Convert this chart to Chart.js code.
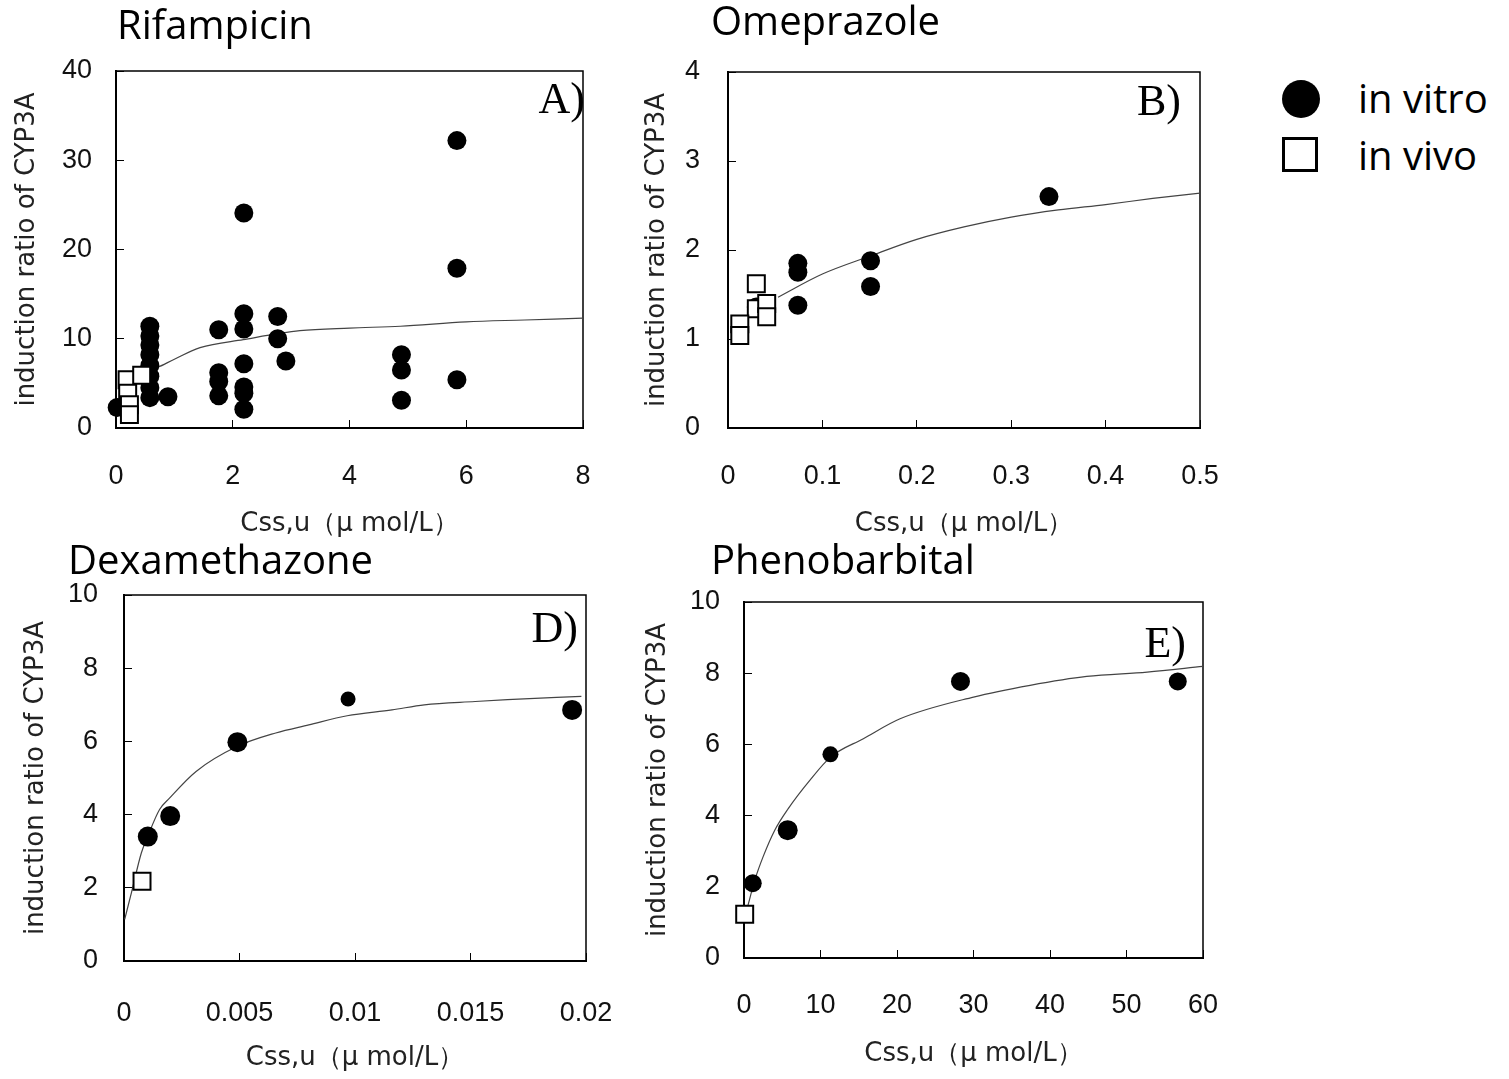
<!DOCTYPE html>
<html>
<head>
<meta charset="utf-8">
<script src="https://cdn.jsdelivr.net/npm/chart.js@4.4.0/dist/chart.umd.min.js"></script>
<style>
  body { margin: 0; background: #fff; width: 1509px; height: 1079px; position: relative; overflow: hidden; }
  canvas { position: absolute; }
  .legend { position: absolute; left: 1282px; font-family: "Open Sans", sans-serif; font-size: 40px; color: #000; }
  .legend .row { position: absolute; left: 0; height: 40px; white-space: nowrap; }
  .legend .mark { position: absolute; left: 0; top: 0; box-sizing: border-box; }
  .legend .dot { width: 38px; height: 38px; border-radius: 50%; background: #000; }
  .legend .box { width: 36px; height: 35px; border: 3px solid #000; background: #fff; }
  .legend .txt { position: absolute; left: 76px; top: -8px; line-height: 52px; }
</style>
</head>
<body>
<canvas id="panelA" width="620" height="540" style="left:0;top:0"></canvas>
<canvas id="panelB" width="620" height="540" style="left:620px;top:0"></canvas>
<canvas id="panelD" width="620" height="539" style="left:0;top:540px"></canvas>
<canvas id="panelE" width="620" height="539" style="left:620px;top:540px"></canvas>

<div class="legend">
  <div class="row" style="top:80px"><div class="mark dot"></div><span class="txt">in vitro</span></div>
  <div class="row" style="top:137px"><div class="mark box"></div><span class="txt">in vivo</span></div>
</div>

<script>
// Rifampicin (A)
const aVitroX = [0.02, 0.58, 0.58, 0.58, 0.58, 0.58, 0.58, 0.58, 0.58, 0.89,
  1.76, 1.76, 1.76, 1.76, 2.19, 2.19, 2.19, 2.19, 2.19, 2.19, 2.19,
  2.77, 2.77, 2.91, 4.89, 4.89, 4.89, 5.84, 5.84, 5.84];
const aVitroY = [2.3, 11.4, 10.3, 9.3, 8.2, 7.0, 5.8, 4.5, 3.4, 3.5,
  11.0, 6.2, 5.2, 3.6, 24.1, 12.8, 11.1, 7.2, 4.6, 3.9, 2.1,
  12.5, 10.0, 7.5, 8.2, 6.5, 3.1, 32.2, 17.9, 5.4];
const aVivoX = [0.19, 0.2, 0.23, 0.23, 0.44];
const aVivoY = [5.4, 3.9, 2.6, 1.5, 5.9];
const aFitX = [0.5, 0.72, 1.0, 1.44, 2.18, 3.15, 4.0, 4.87, 6.0, 7.0, 8.0];
const aFitY = [6.2, 6.8, 7.7, 9.0, 9.9, 10.9, 11.2, 11.4, 11.9, 12.1, 12.3];
const aXTicks = [0, 2, 4, 6, 8];
const aYTicks = [0, 10, 20, 30, 40];

// Omeprazole (B)
const bVitroX = [0.030, 0.074, 0.074, 0.074, 0.151, 0.151, 0.340];
const bVitroY = [1.36, 1.85, 1.75, 1.38, 1.88, 1.59, 2.60];
const bVivoX = [0.030, 0.030, 0.041, 0.041, 0.0125, 0.0125];
const bVivoY = [1.62, 1.34, 1.40, 1.25, 1.17, 1.04];
const bFitX = [0.053, 0.1, 0.15, 0.2, 0.25, 0.3, 0.35, 0.4, 0.45, 0.5];
const bFitY = [1.47, 1.73, 1.93, 2.12, 2.26, 2.37, 2.45, 2.51, 2.58, 2.64];
const bXTicks = [0, 0.1, 0.2, 0.3, 0.4, 0.5];
const bYTicks = [0, 1, 2, 3, 4];

// Dexamethazone (D)
const dVitroX = [0.00103, 0.00200, 0.00491, 0.00970, 0.0194];
const dVitroY = [3.40, 3.96, 5.98, 7.16, 6.86];
const dVitroR = [10, 10, 10, 7.5, 10];
const dVivoX = [0.00078];
const dVivoY = [2.18];
const dFitX = [0.00003, 0.00032, 0.00075, 0.00103, 0.00154, 0.00197, 0.00312, 0.00489,
  0.00657, 0.0080, 0.00966, 0.0116, 0.0130, 0.0152, 0.0166, 0.0198];
const dFitY = [1.14, 1.86, 2.95, 3.41, 4.14, 4.45, 5.18, 5.86,
  6.23, 6.45, 6.70, 6.86, 7.0, 7.09, 7.14, 7.23];
const dXTicks = [0, 0.005, 0.01, 0.015, 0.02];
const dYTicks = [0, 2, 4, 6, 8, 10];

// Phenobarbital (E)
const eVitroX = [1.14, 5.71, 11.3, 28.3, 56.7];
const eVitroY = [2.10, 3.59, 5.72, 7.77, 7.77];
const eVitroR = [9, 10, 8, 9.5, 9];
const eVivoX = [0.09];
const eVivoY = [1.23];
const eFitX = [0.52, 1.40, 2.49, 4.02, 5.76, 8.60, 11.35, 15.6, 20.4, 30.0, 37.4, 44.8, 52.7, 60.0];
const eFitY = [1.48, 2.18, 2.84, 3.59, 4.19, 4.99, 5.65, 6.16, 6.72, 7.33, 7.66, 7.91, 8.03, 8.19];
const eXTicks = [0, 10, 20, 30, 40, 50, 60];
const eYTicks = [0, 2, 4, 6, 8, 10];

const xTitle = 'Css,u（μ mol/L）';
const yTitle = 'induction ratio of CYP3A';

const tickFont = { family: '"Liberation Sans", sans-serif', size: 27 };
const titleFont = { family: '"DejaVu Sans", sans-serif', size: 26 };

function pts(xs, ys) {
    return xs.map((x, i) => ({ x: x, y: ys[i] }));
}

// panel name, letter and closed frame
const panelDecor = {
    id: 'panelDecor',
    beforeDatasetsDraw(chart, args, opts) {
        const { ctx, chartArea: a } = chart;
        ctx.save();
        ctx.strokeStyle = '#000';
        ctx.lineWidth = 1.5;
        ctx.beginPath();
        ctx.moveTo(a.left, a.top);
        ctx.lineTo(a.right, a.top);
        ctx.lineTo(a.right, a.bottom);
        ctx.stroke();
        ctx.restore();
    },
    afterDraw(chart, args, opts) {
        const { ctx } = chart;
        ctx.save();
        ctx.fillStyle = '#000';
        ctx.font = '40px "Open Sans", sans-serif';
        ctx.textAlign = 'left';
        ctx.textBaseline = 'middle';
        ctx.fillText(opts.name, opts.nameX, opts.nameY);
        ctx.font = '44px "Liberation Serif", serif';
        ctx.textAlign = 'right';
        ctx.textBaseline = 'alphabetic';
        ctx.fillText(opts.letter, opts.letterX, opts.letterY);
        ctx.restore();
    }
};

function makePanel(p) {
    const canvas = document.getElementById(p.id);
    const W = canvas.width, H = canvas.height;
    const yWidth = p.plot.l;
    const xHeight = H - p.plot.b;

    return new Chart(canvas.getContext('2d'), {
        type: 'scatter',
        data: {
            datasets: [
                {
                    label: 'in vivo',
                    data: pts(p.vivoX, p.vivoY),
                    pointStyle: 'rect',
                    pointRadius: 12,
                    pointHoverRadius: 12,
                    backgroundColor: '#fff',
                    borderColor: '#000',
                    borderWidth: 2,
                    clip: false,
                    order: 0
                },
                {
                    label: 'in vitro',
                    data: pts(p.vitroX, p.vitroY),
                    pointStyle: 'circle',
                    pointRadius: p.vitroR || 9.5,
                    backgroundColor: '#000',
                    borderColor: '#000',
                    borderWidth: 0,
                    clip: false,
                    order: 1
                },
                {
                    label: 'fit',
                    data: pts(p.fitX, p.fitY),
                    showLine: true,
                    pointRadius: 0,
                    borderColor: '#444',
                    borderWidth: 1.2,
                    cubicInterpolationMode: 'monotone',
                    order: 2
                }
            ]
        },
        options: {
            responsive: false,
            animation: false,
            devicePixelRatio: 1,
            layout: { padding: { top: p.plot.t, right: W - p.plot.r, left: 0, bottom: 0 } },
            plugins: {
                legend: { display: false },
                tooltip: { enabled: false },
                panelDecor: p.decor
            },
            scales: {
                x: {
                    type: 'linear',
                    min: p.xTicks[0],
                    max: p.xTicks[p.xTicks.length - 1],
                    afterBuildTicks: s => { s.ticks = p.xTicks.map(v => ({ value: v })); },
                    afterFit: s => { s.height = xHeight; s.paddingLeft = 0; s.paddingRight = 0; },
                    ticks: {
                        font: tickFont, color: '#111', padding: p.xTickPad,
                        maxRotation: 0, autoSkip: false,
                        callback: v => String(v)
                    },
                    grid: { drawOnChartArea: false, drawTicks: true, tickLength: -8, color: '#000', lineWidth: 1 },
                    border: { color: '#000', width: 2 },
                    title: { display: true, text: xTitle, font: titleFont, color: '#222', padding: { top: 0, bottom: p.xTitlePad } }
                },
                y: {
                    type: 'linear',
                    min: p.yTicks[0],
                    max: p.yTicks[p.yTicks.length - 1],
                    afterBuildTicks: s => { s.ticks = p.yTicks.map(v => ({ value: v })); },
                    afterFit: s => { s.width = yWidth; s.paddingTop = 0; s.paddingBottom = 0; },
                    ticks: {
                        font: tickFont, color: '#111', padding: p.yTickPad,
                        autoSkip: false,
                        callback: v => String(v)
                    },
                    grid: { drawOnChartArea: false, drawTicks: true, tickLength: -8, color: '#000', lineWidth: 1 },
                    border: { color: '#000', width: 2 },
                    title: { display: true, text: yTitle, font: titleFont, color: '#222', padding: { top: p.yTitlePad, bottom: 0 } }
                }
            }
        },
        plugins: [panelDecor]
    });
}

// A: canvas at (0,0)
makePanel({
    id: 'panelA',
    plot: { l: 116, t: 71, r: 583, b: 428 },
    vitroX: aVitroX, vitroY: aVitroY, vivoX: aVivoX, vivoY: aVivoY, fitX: aFitX, fitY: aFitY,
    xTicks: aXTicks, yTicks: aYTicks,
    xTickPad: 40, yTickPad: 32, xTitlePad: 0, yTitlePad: 12,
    decor: { name: 'Rifampicin', nameX: 117, nameY: 28, letter: 'A)', letterX: 585, letterY: 113 }
});

// B: canvas at (620,0)
makePanel({
    id: 'panelB',
    plot: { l: 108, t: 72, r: 580, b: 428 },
    vitroX: bVitroX, vitroY: bVitroY, vivoX: bVivoX, vivoY: bVivoY, fitX: bFitX, fitY: bFitY,
    xTicks: bXTicks, yTicks: bYTicks,
    xTickPad: 40, yTickPad: 36, xTitlePad: 0, yTitlePad: 22,
    decor: { name: 'Omeprazole', nameX: 91, nameY: 24, letter: 'B)', letterX: 561, letterY: 115 }
});

// D: canvas at (0,540)
makePanel({
    id: 'panelD',
    plot: { l: 124, t: 55, r: 586, b: 421 },
    vitroX: dVitroX, vitroY: dVitroY, vitroR: dVitroR, vivoX: dVivoX, vivoY: dVivoY, fitX: dFitX, fitY: dFitY,
    xTicks: dXTicks, yTicks: dYTicks,
    xTickPad: 44, yTickPad: 34, xTitlePad: 5, yTitlePad: 21,
    decor: { name: 'Dexamethazone', nameX: 68, nameY: 23, letter: 'D)', letterX: 578, letterY: 102 }
});

// E: canvas at (620,540)
makePanel({
    id: 'panelE',
    plot: { l: 124, t: 62, r: 583, b: 418 },
    vitroX: eVitroX, vitroY: eVitroY, vitroR: eVitroR, vivoX: eVivoX, vivoY: eVivoY, fitX: eFitX, fitY: eFitY,
    xTicks: eXTicks, yTicks: eYTicks,
    xTickPad: 39, yTickPad: 32, xTitlePad: 9, yTitlePad: 23,
    decor: { name: 'Phenobarbital', nameX: 91, nameY: 23, letter: 'E)', letterX: 566, letterY: 117 }
});
</script>
</body>
</html>
